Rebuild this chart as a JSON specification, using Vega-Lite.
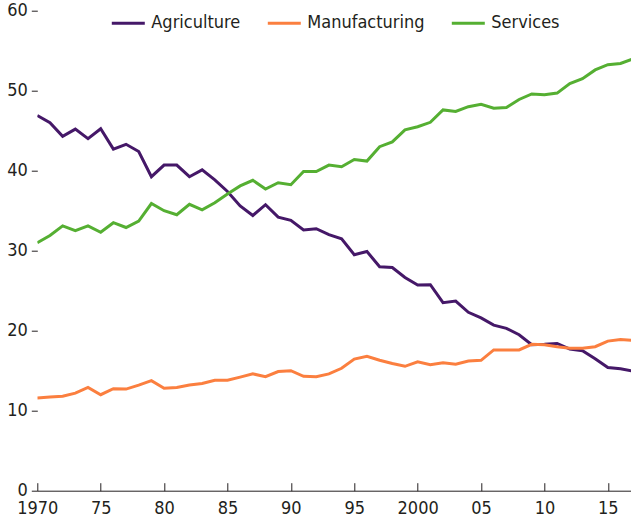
{
  "$schema": "https://vega.github.io/schema/vega-lite/v6.json",
  "autosize": {"type": "none"},
  "padding": {"left": 37.3, "top": 10.7, "right": 0, "bottom": 31.3},
  "width": 594,
  "height": 480,
  "background": "white",
  "config": {
    "font": "DejaVu Sans Condensed, Roboto",
    "view": {"stroke": null},
    "axis": {"labelFont": "DejaVu Sans Condensed, Roboto", "labelFontSize": 18, "labelColor": "#231f20", "grid": false, "title": null}
  },
  "datasets": {
    "rows": [
      {"year": 1970, "Agriculture": 46.9, "Manufacturing": 11.6, "Services": 31.0},
      {"year": 1971, "Agriculture": 46.0, "Manufacturing": 11.7, "Services": 31.9},
      {"year": 1972, "Agriculture": 44.3, "Manufacturing": 11.8, "Services": 33.1},
      {"year": 1973, "Agriculture": 45.2, "Manufacturing": 12.2, "Services": 32.5},
      {"year": 1974, "Agriculture": 44.0, "Manufacturing": 12.9, "Services": 33.1},
      {"year": 1975, "Agriculture": 45.25, "Manufacturing": 12.0, "Services": 32.3},
      {"year": 1976, "Agriculture": 42.7, "Manufacturing": 12.75, "Services": 33.5},
      {"year": 1977, "Agriculture": 43.3, "Manufacturing": 12.7, "Services": 32.9},
      {"year": 1978, "Agriculture": 42.4, "Manufacturing": 13.2, "Services": 33.7},
      {"year": 1979, "Agriculture": 39.25, "Manufacturing": 13.75, "Services": 35.9},
      {"year": 1980, "Agriculture": 40.7, "Manufacturing": 12.8, "Services": 35.0},
      {"year": 1981, "Agriculture": 40.7, "Manufacturing": 12.9, "Services": 34.5},
      {"year": 1982, "Agriculture": 39.25, "Manufacturing": 13.2, "Services": 35.8},
      {"year": 1983, "Agriculture": 40.1, "Manufacturing": 13.4, "Services": 35.1},
      {"year": 1984, "Agriculture": 38.85, "Manufacturing": 13.8, "Services": 36.0},
      {"year": 1985, "Agriculture": 37.4, "Manufacturing": 13.8, "Services": 37.1},
      {"year": 1986, "Agriculture": 35.6, "Manufacturing": 14.2, "Services": 38.1},
      {"year": 1987, "Agriculture": 34.4, "Manufacturing": 14.6, "Services": 38.8},
      {"year": 1988, "Agriculture": 35.75, "Manufacturing": 14.25, "Services": 37.7},
      {"year": 1989, "Agriculture": 34.2, "Manufacturing": 14.9, "Services": 38.5},
      {"year": 1990, "Agriculture": 33.8, "Manufacturing": 15.0, "Services": 38.25},
      {"year": 1991, "Agriculture": 32.6, "Manufacturing": 14.3, "Services": 39.9},
      {"year": 1992, "Agriculture": 32.75, "Manufacturing": 14.25, "Services": 39.9},
      {"year": 1993, "Agriculture": 32.0, "Manufacturing": 14.6, "Services": 40.7},
      {"year": 1994, "Agriculture": 31.5, "Manufacturing": 15.3, "Services": 40.5},
      {"year": 1995, "Agriculture": 29.5, "Manufacturing": 16.45, "Services": 41.4},
      {"year": 1996, "Agriculture": 29.9, "Manufacturing": 16.8, "Services": 41.2},
      {"year": 1997, "Agriculture": 28.0, "Manufacturing": 16.3, "Services": 43.0},
      {"year": 1998, "Agriculture": 27.9, "Manufacturing": 15.9, "Services": 43.6},
      {"year": 1999, "Agriculture": 26.65, "Manufacturing": 15.55, "Services": 45.1},
      {"year": 2000, "Agriculture": 25.7, "Manufacturing": 16.1, "Services": 45.5},
      {"year": 2001, "Agriculture": 25.75, "Manufacturing": 15.75, "Services": 46.05},
      {"year": 2002, "Agriculture": 23.5, "Manufacturing": 16.0, "Services": 47.6},
      {"year": 2003, "Agriculture": 23.7, "Manufacturing": 15.8, "Services": 47.4},
      {"year": 2004, "Agriculture": 22.3, "Manufacturing": 16.2, "Services": 48.0},
      {"year": 2005, "Agriculture": 21.6, "Manufacturing": 16.3, "Services": 48.3},
      {"year": 2006, "Agriculture": 20.7, "Manufacturing": 17.6, "Services": 47.8},
      {"year": 2007, "Agriculture": 20.3, "Manufacturing": 17.6, "Services": 47.9},
      {"year": 2008, "Agriculture": 19.5, "Manufacturing": 17.6, "Services": 48.9},
      {"year": 2009, "Agriculture": 18.25, "Manufacturing": 18.3, "Services": 49.6},
      {"year": 2010, "Agriculture": 18.3, "Manufacturing": 18.25, "Services": 49.5},
      {"year": 2011, "Agriculture": 18.4, "Manufacturing": 18.0, "Services": 49.7},
      {"year": 2012, "Agriculture": 17.7, "Manufacturing": 17.8, "Services": 50.9},
      {"year": 2013, "Agriculture": 17.5, "Manufacturing": 17.8, "Services": 51.5},
      {"year": 2014, "Agriculture": 16.5, "Manufacturing": 18.0, "Services": 52.6},
      {"year": 2015, "Agriculture": 15.4, "Manufacturing": 18.7, "Services": 53.25},
      {"year": 2016, "Agriculture": 15.25, "Manufacturing": 18.9, "Services": 53.4},
      {"year": 2017, "Agriculture": 14.95, "Manufacturing": 18.8, "Services": 54.0}
    ]
  },
  "data": {"name": "rows"},
  "transform": [
    {"fold": ["Agriculture", "Manufacturing", "Services"], "as": ["sector", "value"]}
  ],
  "mark": {"type": "line", "strokeWidth": 3, "clip": true, "strokeJoin": "miter"},
  "encoding": {
    "x": {
      "field": "year", "type": "quantitative",
      "scale": {"domain": [1970, 2016.85], "nice": false, "zero": false},
      "axis": {
        "values": [1970, 1975, 1980, 1985, 1990, 1995, 2000, 2005, 2010, 2015],
        "labelExpr": "datum.value == 1970 || datum.value == 2000 ? '' + datum.value : substring('' + datum.value, 2, 4)",
        "domainColor": "#231f20", "domainWidth": 1,
        "tickColor": "#231f20", "tickSize": -8, "tickWidth": 1,
        "labelPadding": 17, "labelFlush": false, "labelOverlap": false
      }
    },
    "y": {
      "field": "value", "type": "quantitative",
      "scale": {"domain": [0, 60], "nice": false},
      "axis": {
        "values": [0, 10, 20, 30, 40, 50, 60],
        "domain": false, "tickColor": "#231f20", "tickSize": 6, "tickWidth": 1,
        "labelPadding": 4, "labelBaseline": "middle"
      }
    },
    "color": {
      "field": "sector", "type": "nominal",
      "scale": {"domain": ["Agriculture", "Manufacturing", "Services"], "range": ["#451868", "#fb7f3f", "#55af32"]},
      "legend": {
        "title": null, "orient": "none", "direction": "horizontal",
        "legendX": 73, "legendY": -5.5, "padding": 0,
        "symbolType": "stroke", "symbolSize": 1089, "symbolStrokeWidth": 3,
        "labelFont": "DejaVu Sans Condensed, Roboto", "labelFontSize": 18, "labelColor": "#231f20",
        "labelOffset": 5, "columnPadding": 20
      }
    }
  }
}
